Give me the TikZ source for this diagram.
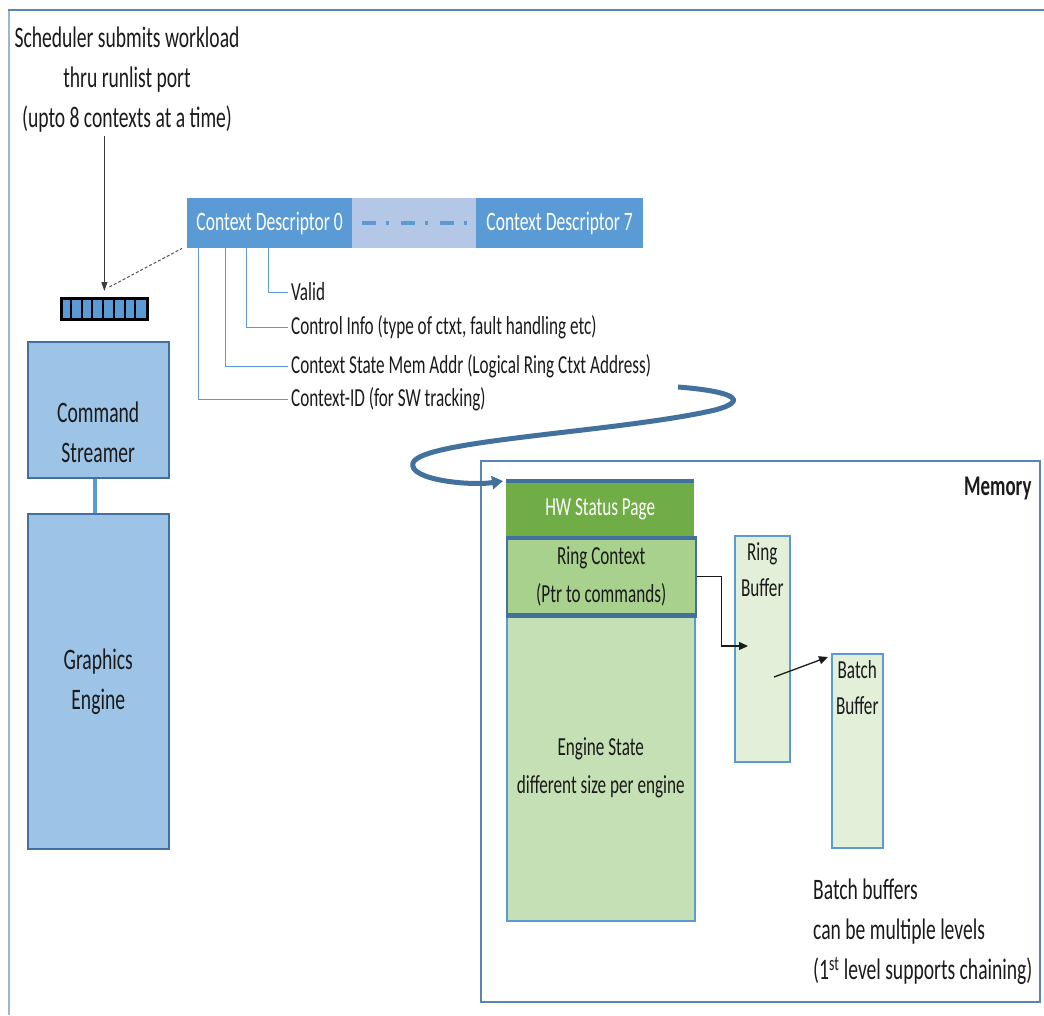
\documentclass[tikz,border=0pt]{standalone}
\usepackage{fontspec}
\setmainfont[FakeStretch=0.66]{Carlito}
\usetikzlibrary{arrows.meta}
\definecolor{frameblue}{HTML}{5A84B3}
\definecolor{accent}{HTML}{5B9BD5}
\definecolor{accentlight}{HTML}{B4C7E7}
\definecolor{boxblue}{HTML}{9DC3E6}
\definecolor{edgeblue}{HTML}{41719C}
\definecolor{hwgreen}{HTML}{70AD47}
\definecolor{ringgreen}{HTML}{A9D18E}
\definecolor{stategreen}{HTML}{C5E0B4}
\definecolor{bufgreen}{HTML}{E2F0D9}
\definecolor{ink}{HTML}{1A1A1A}
\begin{document}
\begin{tikzpicture}[x=1pt,y=-1pt,
  txtbig/.style={font=\fontsize{29.7}{40}\selectfont, text=ink, align=center, inner sep=3pt},
  txtsmall/.style={font=\fontsize{26}{38}\selectfont, text=ink, inner sep=3pt},
  boxcs/.style={draw=edgeblue, line width=1.5pt, fill=boxblue, anchor=north west, inner sep=0pt,
                font=\fontsize{29.7}{40}\selectfont, text=ink, align=center},
  cdbox/.style={fill=accent, text=white, font=\fontsize{26.6}{30}\selectfont, anchor=north west,
                minimum height=50pt, inner sep=0pt},
  memblock/.style={anchor=north west, inner sep=0pt, minimum width=188pt,
                   font=\fontsize{26}{38}\selectfont, text=ink, align=center},
  bufbox/.style={draw=accent, line width=1.5pt, fill=bufgreen, anchor=north west, inner sep=0pt},
  treeline/.style={draw=accent, line width=1pt},
  sepline/.style={draw=edgeblue, line width=4.5pt},
  conn/.style={draw=ink, line width=1.3pt, -{Triangle[length=9pt,width=8pt]}}
]
\useasboundingbox (0,0) rectangle (1044,1015);

% page frame
\draw[frameblue!60, line width=2pt] (9,1015) -- (9,10);
\draw[frameblue, line width=2.5pt] (8,10) -- (1044,10);

% scheduler note and runlist port
\node[txtbig] (sched) at (127,80) {Scheduler submits workload\\thru runlist port\\(upto 8 contexts at a time)};
\node[draw=black, line width=2.8pt, fill=accent, minimum width=86pt, minimum height=21pt,
      anchor=north west, inner sep=0pt] (queue) at (60,297) {};
\foreach \k in {1,...,7}
  \draw[black, line width=2pt] ([xshift=\k*10.75pt]queue.north west) -- ([xshift=\k*10.75pt]queue.south west);
\draw[draw=ink!85, line width=1pt, -{Triangle[length=9pt,width=6pt]}, shorten >=6pt]
  (sched.south -| queue.north) -- (queue.north);

% context descriptors
\node[cdbox, minimum width=165pt] (cd0) at (187,198) {Context Descriptor 0};
\node[cdbox, fill=accentlight, minimum width=124pt] (cdmid) at (352,198) {};
\node[cdbox, minimum width=167pt] (cd7) at (476,198) {Context Descriptor 7};
\draw[accent, line width=4pt, dash pattern=on 14pt off 10pt on 3pt off 12pt]
  ([xshift=10pt]cdmid.west) -- ([xshift=-6pt]cdmid.east);
\draw[ink!75, line width=1pt, dash pattern=on 3pt off 2pt]
  ([xshift=5pt,yshift=10pt]queue.north) -- ([xshift=-5pt]cd0.south west);

% descriptor fields
\node[txtsmall, anchor=west] (fvalid) at (288,292) {Valid};
\node[txtsmall, anchor=west] (fctrl) at (288,327) {Control Info (type of ctxt, fault handling etc)};
\node[txtsmall, anchor=west] (fstate) at (288,366) {Context State Mem Addr (Logical Ring Ctxt Address)};
\node[txtsmall, anchor=west] (fid) at (288,399) {Context-ID (for SW tracking)};
\draw[treeline] ([xshift=81pt]cd0.south west) |- (fvalid.west);
\draw[treeline] ([xshift=59pt]cd0.south west) |- (fctrl.west);
\draw[treeline] ([xshift=38pt]cd0.south west) |- (fstate.west);
\draw[treeline] ([xshift=11pt]cd0.south west) |- (fid.west);

% engine blocks
\node[boxcs, minimum width=141pt, minimum height=136pt] (cs) at (27,341) {};
\node[txtbig] (cslbl) at (cs.center |- 0,432) {Command\\Streamer};
\node[boxcs, minimum width=141pt, minimum height=335pt] (ge) at (27,513) {Graphics\\Engine};
\draw[accent, line width=4pt] ([xshift=-3.5pt]cs.south) -- ([xshift=-3.5pt]ge.north);

% memory
\node[draw=frameblue, line width=1.8pt, minimum width=559pt, minimum height=541pt,
      anchor=north west, inner sep=0pt] (mem) at (480,460) {};
\node[font=\bfseries\fontsize{28.6}{30}\selectfont, text=ink, anchor=east] (memlbl) at (1035,488) {Memory};

\node[memblock, fill=stategreen, draw=accent, line width=1.5pt, minimum height=306pt] (es) at (506,614)
  {Engine State\\different size per engine};
\node[memblock, fill=hwgreen, minimum height=57pt, text=white] (hw) at (506,481) {HW Status Page};
\node[memblock, fill=ringgreen, draw=edgeblue, line width=1.5pt, minimum width=189pt, minimum height=76pt] (rc) at (506,538)
  {Ring Context\\(Ptr to commands)};
\draw[sepline] (hw.north west) -- (hw.north east);
\draw[sepline] (rc.north west) -- (rc.north east);
\draw[sepline] (rc.south west) -- (rc.south east);

\node[bufbox, minimum width=55pt, minimum height=226pt] (rb) at (734,535) {};
\node[txtsmall, align=center, font=\fontsize{26}{36}\selectfont] (rblbl) at (rb.center |- 0,570) {Ring\\Buffer};
\node[bufbox, minimum width=51pt, minimum height=194pt] (bb) at (831,653) {};
\node[txtsmall, align=center, font=\fontsize{26}{36}\selectfont] (bblbl) at (bb.center |- 0,688) {Batch\\Buffer};

\coordinate (rbin) at (748,646);
\coordinate (rbout) at (774,677);
\coordinate (bbin) at (828,657);
\draw[conn] (rc.east) -- ++(25,0) |- (rbin);
\draw[conn] (rbout) -- (bbin);

\node[txtbig, align=left, anchor=west] (note) at (810,932)
  {Batch buffers\\can be multiple levels\\(1\textsuperscript{st} level supports chaining)};

% context address points into memory
\coordinate (ctxaddr) at (678,387);
\draw[edgeblue, line width=5pt, -{Triangle[length=11pt,width=13pt]}]
  (ctxaddr) .. controls (730,391) and (752,400) .. (715,410)
            .. controls (620,432) and (420,440) .. (413,463)
            .. controls (408,480) and (470,486) .. ([xshift=-3pt]hw.north west);
\end{tikzpicture}
\end{document}
